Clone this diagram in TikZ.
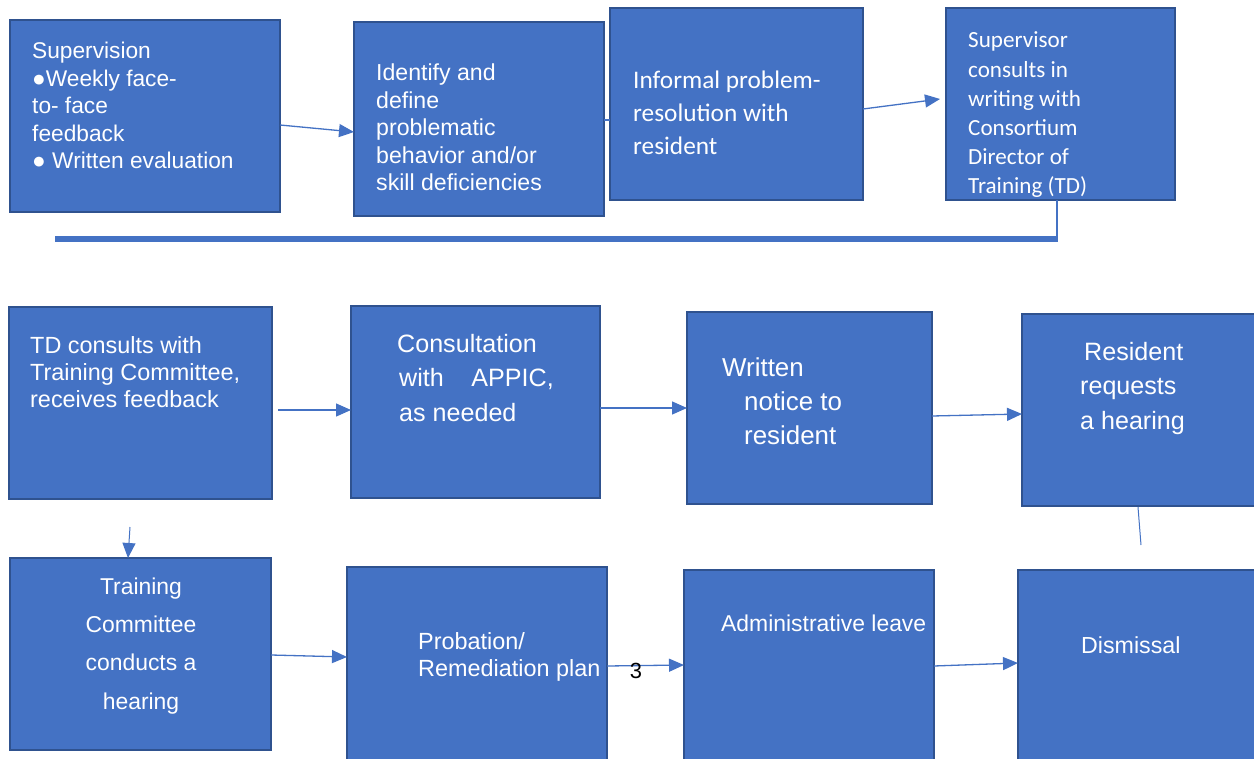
\documentclass[tikz,border=0pt]{standalone}
\usepackage{fontspec}
\setmainfont{Liberation Sans}
\newfontfamily\calib{Carlito}
\usetikzlibrary{arrows.meta,calc}
\definecolor{boxfill}{HTML}{4472C4}
\definecolor{boxline}{HTML}{2F528F}
\newcommand{\ml}[2][l]{\begin{tabular}[t]{@{}#1@{}}#2\end{tabular}}
\begin{document}
\begin{tikzpicture}[x=1bp,y=-1bp,
 box/.style={draw=boxline, fill=boxfill, line width=1.6bp, inner sep=0, outer sep=0, anchor=north west},
 txt/.style={text=white, inner sep=0, anchor=base west},
 conn/.style={draw=boxfill, line width=1.3bp, -{Triangle[length=15bp,width=13bp]}},
 plain/.style={draw=boxfill, line width=1.3bp}]
\useasboundingbox (0,0) rectangle (1254,759);
\fill[white] (0,0) rectangle (1254,759);
% boxes
\node[box, minimum width=270bp, minimum height=192bp] (b1) at (10,20) {};
\node[box, minimum width=250bp, minimum height=194bp] (b2) at (354,22) {};
\node[box, minimum width=253bp, minimum height=192bp] (b3) at (610,8) {};
\node[box, minimum width=229bp, minimum height=192bp] (b4) at (946,8) {};
\node[box, minimum width=263bp, minimum height=192bp] (b5) at (9,307) {};
\node[box, minimum width=249bp, minimum height=192bp] (b6) at (351,306) {};
\node[box, minimum width=245bp, minimum height=192bp] (b7) at (687,312) {};
\node[box, minimum width=240bp, minimum height=192bp] (b8) at (1022,314) {};
\node[box, minimum width=261bp, minimum height=192bp] (b9) at (10,558) {};
\node[box, minimum width=260bp, minimum height=200bp] (b10) at (347,567) {};
\node[box, minimum width=250bp, minimum height=200bp] (b11) at (684,570) {};
\node[box, minimum width=245bp, minimum height=200bp] (b12) at (1018,570) {};
% texts
\node[txt] (t1) at (32,59) {\fontsize{22.8}{27.5}\selectfont\ml{Supervision\\●Weekly face-\\to- face\\feedback\\● Written evaluation}};
\node[txt] (t2) at (376,81) {\fontsize{23.2}{27.5}\selectfont\ml{Identify and\\define\\problematic\\behavior and/or\\skill deficiencies}};
\node[txt] (t3) at (633,89) {\calib\fontsize{25.4}{33}\selectfont\ml{Informal problem-\\resolution with\\resident}};
\node[txt] (t4) at (968,48) {\calib\fontsize{23.2}{29.3}\selectfont\ml{Supervisor\\consults in\\writing with\\Consortium\\Director of\\Training (TD)}};
\node[txt] (t5) at (30,353) {\fontsize{23.5}{27.5}\selectfont\ml{TD consults with\\Training Committee,\\receives feedback}};
\node[txt] (t6) at (397,352) {\fontsize{25.2}{35}\selectfont\ml{Consultation\\\hspace*{2bp}with\hspace{1.1em}APPIC,\\\hspace*{2bp}as needed}};
\node[txt] (t7) at (722,376) {\fontsize{26}{34.5}\selectfont\ml{Written\\\hspace*{22bp}notice to\\\hspace*{22bp}resident}};
\node[txt] (t8) at (1080,360) {\fontsize{25.2}{35}\selectfont\ml{\hspace*{4bp}Resident\\requests\\a hearing}};
\node[txt, anchor=base] (t9) at (141,594) {\fontsize{23}{38.5}\selectfont\ml[c]{Training\\Committee\\conducts a\\hearing}};
\node[txt] (t10) at (418,649) {\fontsize{23.5}{28}\selectfont\ml{Probation/\\Remediation plan}};
\node[txt] (t11) at (721,631) {\fontsize{23}{28}\selectfont Administrative leave};
\node[txt] (t12) at (1081,653) {\fontsize{23.3}{28}\selectfont Dismissal};
% connectors
\draw[conn] ($(b1.north east)+(0,105)$) -- ($(b2.north west)+(0,110)$);
\draw[plain] ($(b2.north east)+(0,98)$) -- ($(b3.north west)+(0,112)$);
\draw[conn] ($(b3.north east)+(0,101)$) -- ($(b4.north west)+(-6,91)$);
\coordinate (r1) at (55,239);
\coordinate (r2) at (1057,239);
\coordinate (r3) at (1057,242);
\draw[boxfill, line width=6bp] (r1) -- (r2);
\draw[plain] ($(b4.south west)+(111,0)$) -- (r3);
\draw[conn] ($(b5.north east)+(6,103)$) -- ($(b6.north west)+(0,104)$);
\draw[conn] ($(b6.north east)+(0,102)$) -- ($(b7.north west)+(0,96)$);
\draw[conn] ($(b7.north east)+(0,104)$) -- ($(b8.north west)+(0,100)$);
\coordinate (e8) at (1141,545);
\draw[plain, line width=1bp] ($(b8.south west)+(116,1)$) -- (e8);
\coordinate (d0) at (130,527);
\draw[conn, line width=1bp] (d0) -- ($(b9.north west)+(118,0)$);
\draw[conn] ($(b9.north east)+(0,97)$) -- ($(b10.north west)+(0,90)$);
\draw[conn] ($(b10.north east)+(0,99)$) -- ($(b11.north west)+(0,95)$);
\draw[conn] ($(b11.north east)+(0,96)$) -- ($(b12.north west)+(0,93)$);
\node[inner sep=0, anchor=base, text=black] (n3) at (636,678) {\fontsize{22}{28}\selectfont 3};
\end{tikzpicture}
\end{document}
